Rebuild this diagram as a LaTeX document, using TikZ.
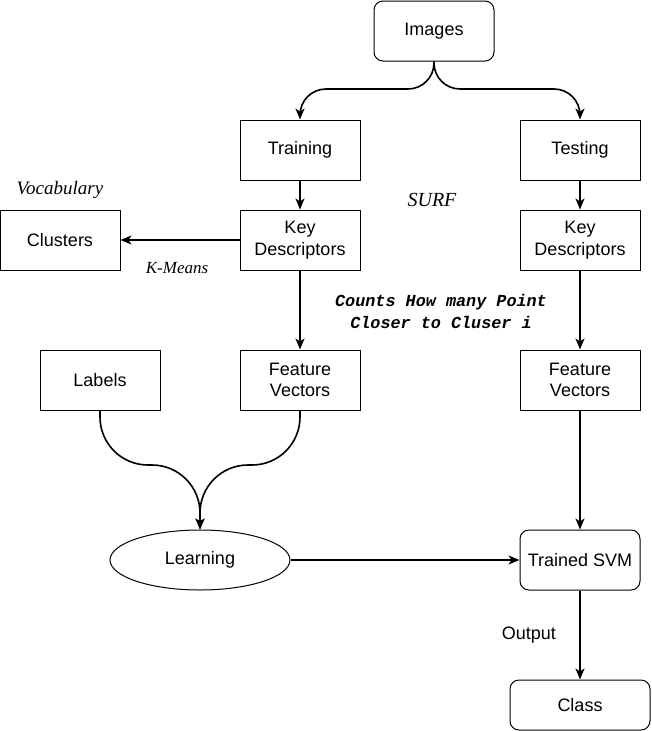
\documentclass[tikz,border=0pt]{standalone}
\usepackage{fontspec}
\setmainfont{Liberation Sans}
\newfontfamily\timesfont{Liberation Serif}
\newfontfamily\courfont{Liberation Mono}
\usetikzlibrary{arrows.meta,shapes.geometric}

\tikzset{
  box/.style={draw, line width=1pt, minimum width=120pt, minimum height=60pt,
    align=center, font=\fontsize{18}{21.5}\selectfont},
  rbox/.style={box, rounded corners=9pt},
  arr/.style={line width=1.6pt, -{Stealth[length=11pt,width=9pt,inset=3pt]}},
  note/.style={font=\timesfont\itshape\fontsize{18}{22}\selectfont}
}

\begin{document}
\begin{tikzpicture}[x=1pt, y=-1pt, node distance=90pt]
  \useasboundingbox (0,0) rectangle (651,731);
  \node[rbox] (IMG) at (434,31) {Images};
  \node[box] (TRN) at (300,150) {Training};
  \node[box, node distance=280pt] (TST) [right of=TRN] {Testing};
  \node[box] (KDA) [below of=TRN] {Key\\Descriptors};
  \node[box] (KDB) [below of=TST] {Key\\Descriptors};
  \node[box, node distance=240pt] (CLU) [left of=KDA] {Clusters};
  \node[box, node distance=140pt] (FVA) [below of=KDA] {Feature\\Vectors};
  \node[box, node distance=140pt] (FVB) [below of=KDB] {Feature\\Vectors};
  \node[box, node distance=200pt] (LAB) [left of=FVA] {Labels};
  \node[draw, ellipse, line width=1pt, minimum width=180pt, minimum height=60pt,
    inner sep=0pt, font=\fontsize{18}{21.5}\selectfont] (LRN) at (200,560) {Learning};
  \node[rbox, node distance=180pt] (SVM) [below of=FVB] {Trained SVM};
  \node[rbox, minimum width=140pt, minimum height=50pt, node distance=145pt] (CLS) [below of=SVM] {Class};

  % free labels
  \node[note, font=\timesfont\itshape\fontsize{19}{22}\selectfont, node distance=50pt] (VOC) [above of=CLU] {Vocabulary};
  \node[note, font=\timesfont\itshape\fontsize{20}{22}\selectfont] (SURF) at (432,200) {SURF};
  \node[align=center, font=\courfont\bfseries\itshape\fontsize{16.8}{22}\selectfont] (CNT) at (441,311)
    {Counts How many Point\\Closer to Cluser i};

  \draw[arr, rounded corners=26pt] (IMG.south) |- (TRN.north |- 0,89) -- (TRN.north);
  \draw[arr, rounded corners=26pt] (IMG.south) |- (TST.north |- 0,89) -- (TST.north);
  \draw[arr] (TRN) -- (KDA);
  \draw[arr] (TST) -- (KDB);
  \draw[arr] (KDA) -- node[note, font=\timesfont\itshape\fontsize{17}{20}\selectfont, below=18pt, xshift=-3pt]{K-Means} (CLU);
  \draw[arr] (KDA) -- (FVA);
  \draw[arr] (KDB) -- (FVB);
  \draw[arr, rounded corners=48pt] (LAB.south) |- (LRN.north |- 0,465) -- (LRN.north);
  \draw[arr, rounded corners=48pt] (FVA.south) |- (LRN.north |- 0,465) -- (LRN.north);
  \draw[arr] (FVB) -- (SVM);
  \draw[arr] (LRN) -- (SVM);
  \draw[arr] (SVM) -- node[left=20pt, font=\fontsize{18}{21.5}\selectfont]{Output} (CLS);
\end{tikzpicture}
\end{document}
